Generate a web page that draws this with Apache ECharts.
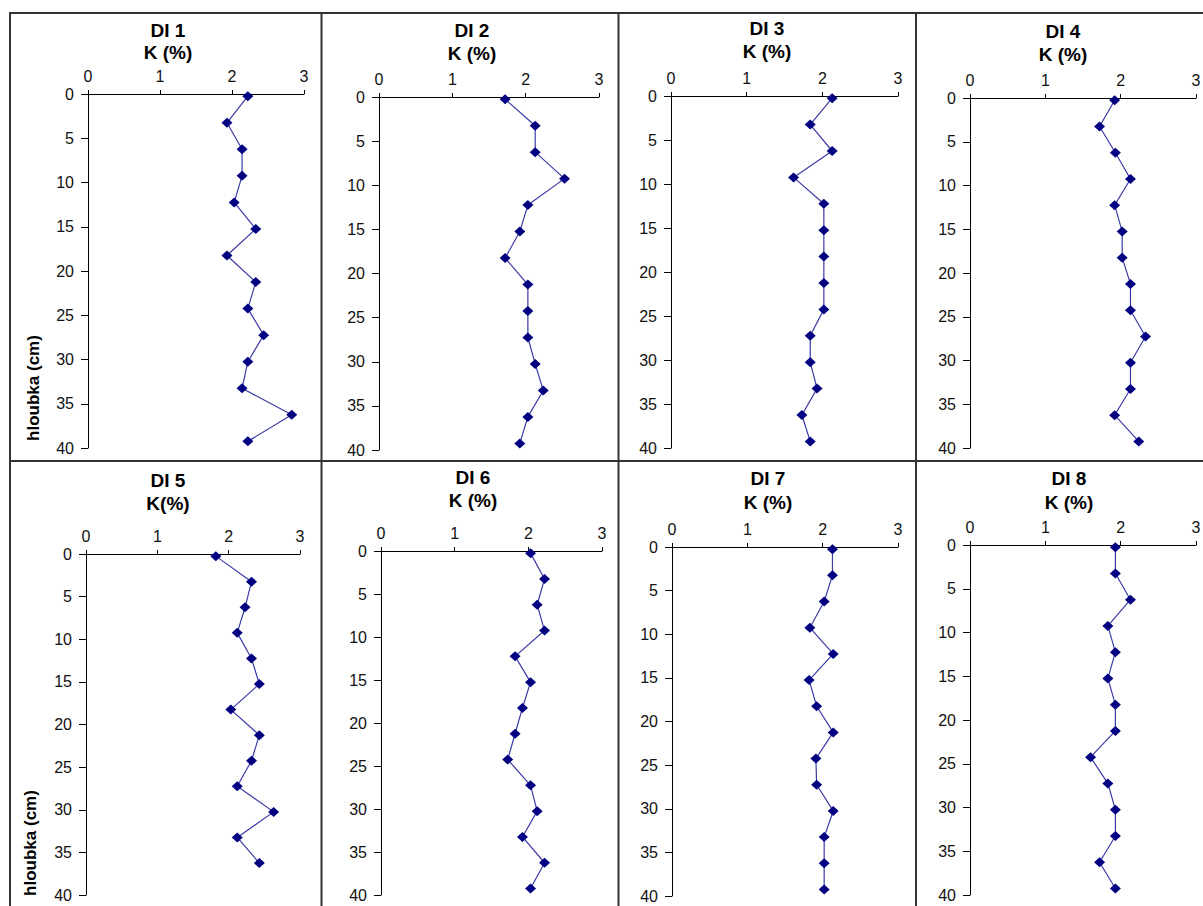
<!DOCTYPE html>
<html>
<head>
<meta charset="utf-8">
<script src="https://cdn.jsdelivr.net/npm/echarts@6/dist/echarts.min.js"></script>
<style>
html,body{margin:0;padding:0;background:#fff;}
#c{width:1203px;height:906px;}
</style>
</head>
<body>
<div id="c"></div>
<script>
// ---- data ----
var titles = ['DI 1','DI 2','DI 3','DI 4','DI 5','DI 6','DI 7','DI 8'];
var subTitles = ['K (%)','K (%)','K (%)','K (%)','K(%)','K (%)','K (%)','K (%)'];
var depths = [0.25, 3.25, 6.25, 9.25, 12.25, 15.25, 18.25, 21.25, 24.25, 27.25, 30.25, 33.25, 36.25, 39.25];
var k1 = [2.22,1.93,2.14,2.14,2.03,2.33,1.93,2.33,2.22,2.44,2.22,2.14,2.83,2.22];
var k2 = [1.72,2.13,2.13,2.53,2.03,1.92,1.72,2.03,2.03,2.03,2.13,2.24,2.03,1.92];
var k3 = [2.13,1.84,2.13,1.62,2.02,2.02,2.02,2.02,2.02,1.84,1.84,1.93,1.73,1.84];
var k4 = [1.92,1.72,1.93,2.13,1.92,2.02,2.02,2.13,2.13,2.33,2.13,2.13,1.92,2.24];
var k5 = [1.82,2.32,2.23,2.12,2.32,2.43,2.03,2.43,2.32,2.12,2.63,2.12,2.43];
var k6 = [2.03,2.22,2.12,2.22,1.82,2.03,1.92,1.82,1.72,2.03,2.12,1.92,2.22,2.03];
var k7 = [2.13,2.13,2.02,1.83,2.14,1.82,1.92,2.14,1.91,1.92,2.14,2.02,2.02,2.02];
var k8 = [1.93,1.93,2.13,1.83,1.93,1.83,1.93,1.93,1.60,1.83,1.93,1.93,1.72,1.93];
var kSeries = [k1,k2,k3,k4,k5,k6,k7,k8];
var yAxisName = 'hloubka (cm)';

// ---- layout ----
var grids = [
  {left:88, top:94, width:216, height:354},
  {left:379, top:97, width:220, height:353},
  {left:671, top:96, width:227, height:352},
  {left:970, top:98, width:226, height:350},
  {left:86, top:554, width:214, height:341},
  {left:381, top:551, width:221, height:344},
  {left:672, top:547, width:226, height:349},
  {left:970, top:545, width:226, height:350}
];
var titlePos = [
  [168,30,52],[472,30,53],[767,28,51],[1063,31,54],
  [168,480,503],[473,477,500],[768,478,502],[1069,478,502]
];

var FONT = '"Liberation Sans", Arial, sans-serif';
var option = {
  animation:false,
  backgroundColor:'#fff',
  grid:[], xAxis:[], yAxis:[], series:[], graphic:[]
};

for (var i=0;i<8;i++){
  var g = grids[i];
  option.grid.push({left:g.left, top:g.top, width:g.width, height:g.height, containLabel:false, outerBoundsMode:'none'});
  option.xAxis.push({
    type:'value', gridIndex:i, position:'top', min:0, max:3, interval:1,
    axisLine:{show:true, onZero:false, lineStyle:{color:'#000', width:1}},
    axisTick:{show:true, length:4, lineStyle:{color:'#000'}},
    axisLabel:{color:'#111', fontSize:16, fontFamily:FONT, margin:10},
    splitLine:{show:false}
  });
  option.yAxis.push({
    type:'value', gridIndex:i, inverse:true, min:0, max:40, interval:5,
    axisLine:{show:true, onZero:false, lineStyle:{color:'#000', width:1}},
    axisTick:{show:true, length:7, lineStyle:{color:'#000'}},
    axisLabel:{color:'#111', fontSize:16, fontFamily:FONT, margin:14},
    splitLine:{show:false}
  });
  var data = [];
  var ks = kSeries[i];
  for (var j=0;j<ks.length;j++){ data.push([ks[j], depths[j]]); }
  option.series.push({
    type:'line', xAxisIndex:i, yAxisIndex:i, data:data,
    symbol:'diamond', symbolSize:[11,10],
    itemStyle:{color:'#000080'},
    lineStyle:{color:'#3a3aa6', width:1.2}
  });
  var tp = titlePos[i];
  option.graphic.push({
    type:'text', x:tp[0], y:tp[1], z:10,
    style:{text:titles[i], fill:'#000', font:'bold 19px '+FONT, textAlign:'center', textVerticalAlign:'middle'}
  });
  option.graphic.push({
    type:'text', x:tp[0], y:tp[2], z:10,
    style:{text:subTitles[i], fill:'#000', font:'bold 19px '+FONT, textAlign:'center', textVerticalAlign:'middle'}
  });
}

// rotated y-axis names for left column
option.graphic.push({
  type:'text', x:33, y:388, rotation:Math.PI/2, z:10,
  style:{text:yAxisName, fill:'#000', font:'bold 17px '+FONT, textAlign:'center', textVerticalAlign:'middle'}
});
option.graphic.push({
  type:'text', x:30, y:843, rotation:Math.PI/2, z:10,
  style:{text:yAxisName, fill:'#000', font:'bold 17px '+FONT, textAlign:'center', textVerticalAlign:'middle'}
});

// panel frame lines
var frameColor = '#333';
var lines = [
  [9,13,1203,13],
  [10,13,10,906],
  [321.5,13,321.5,906],
  [618.5,13,618.5,906],
  [916,13,916,906],
  [10,461,1203,461]
];
lines.forEach(function(l){
  option.graphic.push({type:'line', z:5, shape:{x1:l[0],y1:l[1],x2:l[2],y2:l[3]}, style:{stroke:frameColor, lineWidth:2}});
});

var chart = echarts.init(document.getElementById('c'), null, {renderer:'svg'});
chart.setOption(option);
</script>
</body>
</html>
